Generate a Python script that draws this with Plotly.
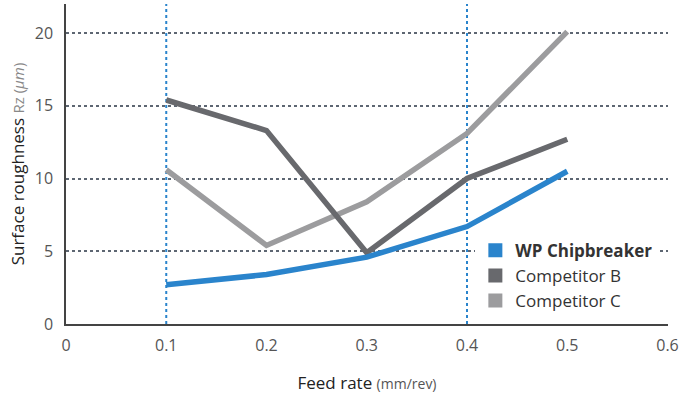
import plotly.graph_objects as go

feed_rate = [0.1, 0.2, 0.3, 0.4, 0.5]
wp_chipbreaker = [2.7, 3.4, 4.6, 6.7, 10.5]
competitor_b = [15.4, 13.3, 4.9, 10.0, 12.7]
competitor_c = [10.6, 5.4, 8.4, 13.1, 20.1]
highlight_feeds = [0.1, 0.4]
x_ticks = [0, 0.1, 0.2, 0.3, 0.4, 0.5, 0.6]
x_tick_labels = ["0", "0.1", "0.2", "0.3", "0.4", "0.5", "0.6"]
y_ticks = [0, 5, 10, 15, 20]

series = [
    ("<b>WP Chipbreaker</b>", wp_chipbreaker, "#2a84cc"),
    ("Competitor B", competitor_b, "#68696d"),
    ("Competitor C", competitor_c, "#9c9c9e"),
]

FONT = "Open Sans"
fig = go.Figure()

for name, vals, col in reversed(series):
    fig.add_trace(go.Scatter(x=feed_rate, y=vals, mode="lines", name=name,
                             line=dict(color=col, width=5.5), showlegend=False,
                             hoverinfo="skip"))
for name, vals, col in series:
    fig.add_trace(go.Scatter(x=[None], y=[None], mode="markers", name=name,
                             marker=dict(symbol="square", size=14, color=col)))

for fx in highlight_feeds:
    fig.add_vline(x=fx, line=dict(color="#2a84cc", width=2, dash="dot"), layer="below")

fig.update_layout(
    width=679, height=399,
    margin=dict(l=66, r=11, t=4, b=75, autoexpand=False),
    paper_bgcolor="white", plot_bgcolor="white",
    font=dict(family=FONT, color="#555555", size=16),
    legend=dict(x=0.68, y=0.285, xanchor="left", yanchor="top",
                font=dict(size=17, color="#333333", family=FONT),
                bgcolor="white", tracegroupgap=0,
                itemwidth=30),
    xaxis=dict(range=[0, 0.6005], tickvals=x_ticks, ticktext=x_tick_labels,
               showgrid=False, zeroline=False, showline=True, automargin=False,
               linecolor="#444444", linewidth=1.5, ticks="",
               ticklabelstandoff=6,
               tickfont=dict(size=16, color="#555555"),
               title=dict(text="Feed rate <span style='font-size:14px;color:#555555'>(mm/rev)</span>",
                          font=dict(size=17, color="#222222"), standoff=22)),
    yaxis=dict(range=[0, 22], tickvals=y_ticks, showgrid=True, automargin=False,
               gridcolor="#5d6672", griddash="dot", gridwidth=1.5,
               zeroline=False, showline=True, linecolor="#444444", linewidth=1.5,
               ticks="", ticklabelstandoff=8,
               tickfont=dict(size=16, color="#555555"),
               title=dict(text="Surface roughness <span style='font-size:15px;color:#888888'>Rz (<i>μm</i>)</span>",
                          font=dict(size=17, color="#222222"), standoff=6)),
)

fig.write_html("out.html", config={"displayModeBar": False})

# remove the browser's default page margin so the figure sits at the window origin
with open("out.html", "r", encoding="utf-8") as f:
    html = f.read()
html = html.replace("<head>", "<head><style>html,body{margin:0;padding:0;overflow:hidden;}</style>", 1)
with open("out.html", "w", encoding="utf-8") as f:
    f.write(html)
